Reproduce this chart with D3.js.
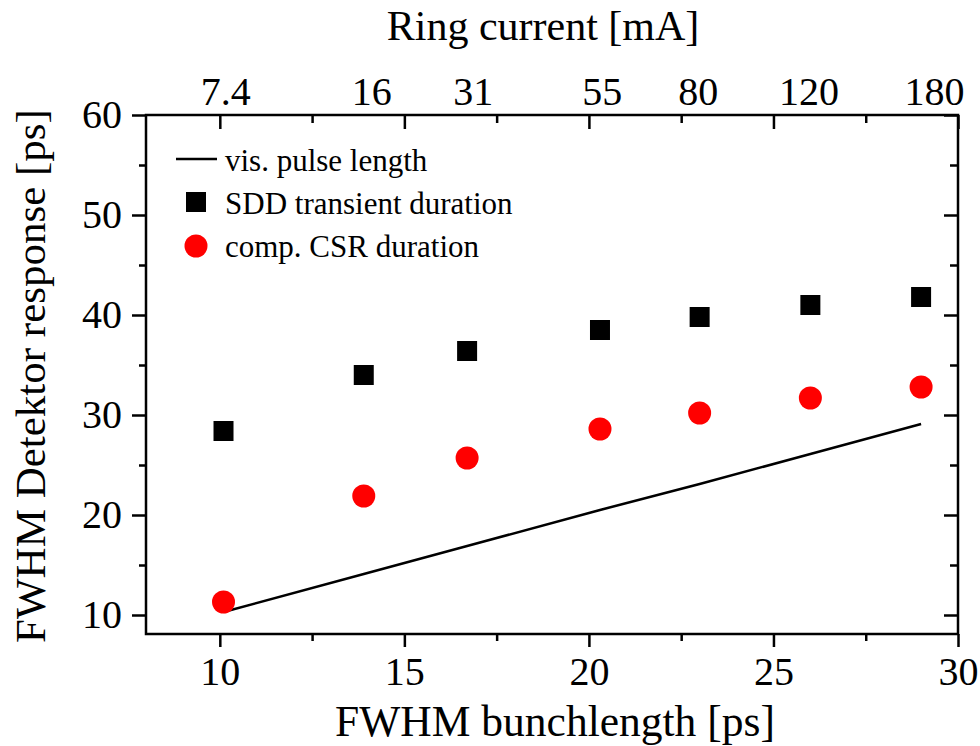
<!DOCTYPE html>
<html>
<head>
<meta charset="utf-8">
<script src="https://cdn.jsdelivr.net/npm/d3@7"></script>
<style>
  body { margin: 0; background: #fff; }
  #graph { width: 980px; height: 746px; }
  svg text { font-family: "Liberation Serif", "Times New Roman", serif; fill: #000; }
</style>
</head>
<body>
<div id="graph"></div>
<script>
// data
const bunchLength = [10.1, 13.9, 16.7, 20.3, 23.0, 26.0, 29.0];
const sddDuration = [28.4, 34.0, 36.4, 38.5, 39.8, 41.0, 41.8];
const csrDuration = [11.3, 21.9, 25.7, 28.6, 30.2, 31.7, 32.8];
const pulseLength = [10.3, 14.1, 16.9, 20.5, 23.1, 26.1, 29.1];

// top axis: ring current labels and where they sit on the bunchlength axis
const ringCurrentLabels = ['7.4', '16', '31', '55', '80', '120', '180'];
const ringCurrentAt = [10.15, 14.1, 16.85, 20.35, 22.95, 25.95, 29.35];

const xTicks = [10, 15, 20, 25, 30];
const xMinorTicks = [12.5, 17.5, 22.5, 27.5];
const yTicks = [10, 20, 30, 40, 50, 60];
const yMinorTicks = [15, 25, 35, 45, 55];

const legendLabels = ['vis. pulse length', 'SDD transient duration', 'comp. CSR duration'];

const margin = { top: 115, right: 22, bottom: 112, left: 146 };
const width = 980 - margin.left - margin.right;
const height = 746 - margin.top - margin.bottom;

const svg = d3.select('#graph')
  .append('svg')
  .attr('width', 980)
  .attr('height', 746)
  .append('g')
  .attr('transform', `translate(${margin.left},${margin.top})`);

const x = d3.scaleLinear().domain([8, 30]).range([0, width]);
const y = d3.scaleLinear().domain([8.1, 60]).range([height, 0]);

// axes (ticks only, frame drawn separately)
function addAxis(axis, transform, cls) {
  const g = svg.append('g')
    .attr('class', cls)
    .attr('transform', transform)
    .call(axis);
  g.select('.domain').remove();
  g.selectAll('line').attr('stroke', '#000').attr('stroke-width', 2.5);
  g.selectAll('text').attr('font-size', 40).attr('font-family', null).attr('fill', '#000');
  return g;
}

addAxis(d3.axisLeft(y).tickValues(yTicks).tickSize(14).tickPadding(10), null, 'y-left');
addAxis(d3.axisLeft(y).tickValues(yMinorTicks).tickSize(7).tickFormat(''), null, 'y-left-minor');
addAxis(d3.axisRight(y).tickValues(yTicks).tickSize(-14).tickFormat(''), `translate(${width},0)`, 'y-right');
addAxis(d3.axisRight(y).tickValues(yMinorTicks).tickSize(-8).tickFormat(''), `translate(${width},0)`, 'y-right-minor');

addAxis(d3.axisBottom(x).tickValues(xTicks).tickSize(13).tickPadding(10), `translate(0,${height})`, 'x-bottom');
addAxis(d3.axisBottom(x).tickValues(xMinorTicks).tickSize(7).tickFormat(''), `translate(0,${height})`, 'x-bottom-minor');
addAxis(d3.axisTop(x).tickValues(xTicks).tickSize(-14).tickFormat(''), null, 'x-top');
addAxis(d3.axisTop(x).tickValues(xMinorTicks).tickSize(-8).tickFormat(''), null, 'x-top-minor');

// ring current labels on top
addAxis(d3.axisTop(x).tickValues(ringCurrentAt).tickSize(0).tickPadding(10)
  .tickFormat((d, i) => ringCurrentLabels[i]), null, 'x-top-labels');

// frame
svg.append('rect')
  .attr('x', 0)
  .attr('y', 0)
  .attr('width', width)
  .attr('height', height)
  .attr('fill', 'none')
  .attr('stroke', '#000')
  .attr('stroke-width', 2.5);

// axis titles
svg.append('text')
  .attr('x', 409)
  .attr('y', height + 102)
  .attr('text-anchor', 'middle')
  .attr('font-size', 43.5)
  .text('FWHM bunchlength [ps]');

svg.append('text')
  .attr('x', 397)
  .attr('y', -75)
  .attr('text-anchor', 'middle')
  .attr('font-size', 42)
  .text('Ring current [mA]');

svg.append('text')
  .attr('transform', `translate(-101,${261})rotate(-90)`)
  .attr('text-anchor', 'middle')
  .attr('font-size', 43)
  .text('FWHM Detektor response [ps]');

// vis. pulse length line
svg.append('path')
  .datum(bunchLength)
  .attr('fill', 'none')
  .attr('stroke', '#000')
  .attr('stroke-width', 2.5)
  .attr('d', d3.line()
    .x((d) => x(d))
    .y((d, i) => y(pulseLength[i])));

// SDD squares
const sq = 20;
svg.append('g')
  .selectAll('rect')
  .data(bunchLength)
  .join('rect')
  .attr('x', (d) => x(d) - sq / 2)
  .attr('y', (d, i) => y(sddDuration[i]) - sq / 2)
  .attr('width', sq)
  .attr('height', sq)
  .attr('fill', '#000');

// CSR circles
svg.append('g')
  .selectAll('circle')
  .data(bunchLength)
  .join('circle')
  .attr('cx', (d) => x(d))
  .attr('cy', (d, i) => y(csrDuration[i]))
  .attr('r', 11.5)
  .attr('fill', '#ff0000');

// legend
const legend = svg.append('g');
legend.append('line')
  .attr('x1', 30).attr('x2', 71)
  .attr('y1', 44).attr('y2', 44)
  .attr('stroke', '#000')
  .attr('stroke-width', 2.5);
legend.append('rect')
  .attr('x', 50 - sq / 2).attr('y', 87 - sq / 2)
  .attr('width', sq).attr('height', sq)
  .attr('fill', '#000');
legend.append('circle')
  .attr('cx', 50).attr('cy', 131)
  .attr('r', 11.5)
  .attr('fill', '#ff0000');
legend.selectAll('text')
  .data(legendLabels)
  .join('text')
  .attr('x', 79)
  .attr('y', (d, i) => 56 + i * 43)
  .attr('font-size', 31)
  .text((d) => d);
</script>
</body>
</html>
